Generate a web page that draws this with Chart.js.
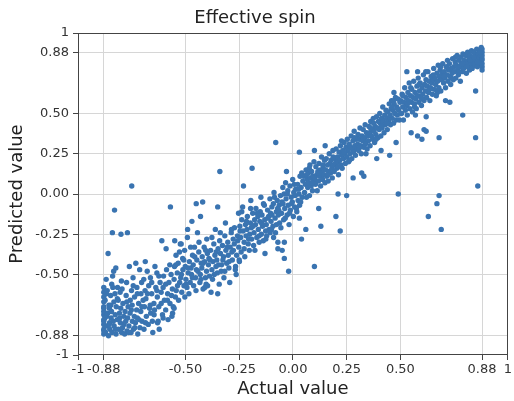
<!DOCTYPE html>
<html>
<head>
<meta charset="utf-8">
<script src="https://cdn.jsdelivr.net/npm/chart.js@4.4.1/dist/chart.umd.min.js"></script>
<style>html,body{margin:0;padding:0;background:#fff;}canvas{display:block;}</style>
</head>
<body>
<canvas id="c" width="514" height="401"></canvas>
<script>
// [actual, predicted] pairs
const segLeft = [
[-0.88,-0.87],[-0.88,-0.84],[-0.88,-0.81],[-0.88,-0.78],[-0.88,-0.75],[-0.88,-0.73],[-0.88,-0.70],[-0.88,-0.67],[-0.88,-0.64],[-0.88,-0.61],[-0.88,-0.58],[-0.88,-0.85],[-0.88,-0.79],[-0.88,-0.71],
[-0.872,-0.86],[-0.866,-0.76],[-0.874,-0.66],[-0.869,-0.53],[-0.863,-0.82],[-0.858,-0.88],[-0.862,-0.74],[-0.856,-0.69],[-0.864,-0.60],[-0.853,-0.80],
[-0.852,-0.84],[-0.846,-0.77],[-0.854,-0.71],[-0.848,-0.63],[-0.843,-0.56],[-0.842,-0.86],[-0.836,-0.79],[-0.844,-0.73],[-0.839,-0.51],[-0.833,-0.67],
[-0.832,-0.82],[-0.827,-0.75],[-0.834,-0.48],[-0.828,-0.62],[-0.823,-0.87],[-0.817,-0.78],[-0.822,-0.70],[-0.824,-0.46],[-0.816,-0.58],
[-0.812,-0.84],[-0.807,-0.74],[-0.813,-0.66],[-0.803,-0.80],[-0.797,-0.86],[-0.801,-0.71],[-0.804,-0.61],[-0.798,-0.54],
[-0.793,-0.83],[-0.787,-0.76],[-0.791,-0.68],[-0.783,-0.87],[-0.778,-0.79],[-0.781,-0.73],[-0.776,-0.63],[-0.772,-0.85],[-0.767,-0.70],[-0.774,-0.55],[-0.769,-0.77],
[-0.763,-0.82],[-0.757,-0.66],[-0.761,-0.45],[-0.758,-0.74],[-0.753,-0.86],[-0.747,-0.79],[-0.751,-0.60],[-0.748,-0.69],
[-0.742,-0.84],[-0.738,-0.76],[-0.744,-0.52],[-0.737,-0.64],[-0.733,-0.80],[-0.727,-0.72],[-0.731,-0.43],[-0.726,-0.58],
[-0.722,-0.87],[-0.718,-0.68],[-0.724,-0.77],[-0.712,-0.83],[-0.707,-0.62],[-0.713,-0.47],[-0.708,-0.73],[-0.702,-0.79],[-0.697,-0.66],[-0.704,-0.55],
[-0.693,-0.84],[-0.687,-0.42],[-0.691,-0.70],[-0.688,-0.60],[-0.682,-0.76],[-0.678,-0.48],[-0.684,-0.65],[-0.673,-0.81],[-0.667,-0.71],[-0.671,-0.57],
[-0.662,-0.74],[-0.657,-0.62],[-0.663,-0.52],[-0.652,-0.86],[-0.647,-0.68],[-0.654,-0.79],[-0.642,-0.45],[-0.638,-0.58],[-0.644,-0.72],
[-0.633,-0.49],[-0.627,-0.79],[-0.631,-0.64],[-0.622,-0.84],[-0.618,-0.55],[-0.624,-0.70],[-0.613,-0.61],[-0.607,-0.75],[-0.602,-0.51],[-0.598,-0.66],[-0.604,-0.58],
[-0.592,-0.72],[-0.588,-0.47],[-0.583,-0.62],[-0.577,-0.55],[-0.581,-0.78],[-0.572,-0.68],[-0.567,-0.50],[-0.563,-0.76],[-0.557,-0.70],[-0.561,-0.59],[-0.553,-0.53],[-0.547,-0.64],[-0.551,-0.45],
[-0.875,-0.77],[-0.868,-0.62],[-0.855,-0.81],[-0.847,-0.69],[-0.838,-0.58],[-0.826,-0.84],[-0.817,-0.65],[-0.806,-0.77],[-0.795,-0.59],[-0.786,-0.81],[-0.773,-0.67],[-0.764,-0.86],
[-0.752,-0.72],[-0.743,-0.57],[-0.736,-0.83],[-0.724,-0.62],[-0.716,-0.78],[-0.703,-0.70],[-0.694,-0.53],[-0.686,-0.80],[-0.677,-0.62],[-0.664,-0.69],[-0.657,-0.55],[-0.646,-0.75],
[-0.633,-0.60],[-0.624,-0.51],[-0.613,-0.68],[-0.604,-0.77],[-0.592,-0.56],[-0.584,-0.66],[-0.573,-0.44],[-0.565,-0.63],[-0.553,-0.71]
];
const segMidLeft = [
[-0.543,-0.60],[-0.538,-0.49],[-0.544,-0.38],[-0.532,-0.66],[-0.527,-0.55],[-0.534,-0.43],[-0.522,-0.52],[-0.517,-0.61],[-0.524,-0.31],[-0.512,-0.47],[-0.507,-0.57],[-0.513,-0.40],
[-0.503,-0.64],[-0.498,-0.53],[-0.501,-0.45],[-0.504,-0.35],[-0.493,-0.58],[-0.487,-0.49],[-0.491,-0.27],[-0.482,-0.42],[-0.478,-0.55],[-0.484,-0.62],[-0.472,-0.50],[-0.467,-0.38],[-0.474,-0.46],
[-0.462,-0.57],[-0.458,-0.33],[-0.464,-0.44],[-0.453,-0.52],[-0.447,-0.41],[-0.451,-0.60],[-0.442,-0.48],[-0.438,-0.36],[-0.444,-0.24],[-0.433,-0.55],[-0.427,-0.43],[-0.431,-0.50],
[-0.422,-0.39],[-0.418,-0.59],[-0.424,-0.46],[-0.413,-0.33],[-0.407,-0.52],[-0.411,-0.42],[-0.402,-0.48],[-0.398,-0.37],[-0.404,-0.56],[-0.401,-0.28],[-0.393,-0.44],[-0.388,-0.51],[-0.391,-0.40],
[-0.383,-0.35],[-0.377,-0.47],[-0.381,-0.61],[-0.372,-0.42],[-0.368,-0.31],[-0.374,-0.53],[-0.363,-0.38],[-0.358,-0.45],[-0.361,-0.22],[-0.352,-0.49],[-0.348,-0.34],[-0.354,-0.41],
[-0.343,-0.56],[-0.337,-0.37],[-0.341,-0.29],[-0.332,-0.44],[-0.328,-0.32],[-0.334,-0.48],[-0.323,-0.39],[-0.317,-0.26],[-0.321,-0.52],[-0.312,-0.35],[-0.308,-0.43],[-0.314,-0.18],
[-0.303,-0.30],[-0.298,-0.46],[-0.301,-0.38],[-0.292,-0.33],[-0.287,-0.24],[-0.294,-0.55],[-0.282,-0.41],[-0.278,-0.28],[-0.284,-0.36],[-0.272,-0.21],[-0.267,-0.45],[-0.273,-0.31],[-0.262,-0.38],[-0.258,-0.26],[-0.264,-0.50],
[-0.545,-0.44],[-0.537,-0.57],[-0.528,-0.36],[-0.519,-0.50],[-0.508,-0.41],[-0.497,-0.56],[-0.488,-0.46],[-0.476,-0.33],[-0.468,-0.52],[-0.457,-0.39],[-0.449,-0.47],[-0.437,-0.30],
[-0.428,-0.53],[-0.418,-0.43],[-0.406,-0.35],[-0.397,-0.57],[-0.386,-0.41],[-0.377,-0.27],[-0.366,-0.50],[-0.357,-0.36],[-0.346,-0.44],[-0.338,-0.24],[-0.326,-0.41],[-0.317,-0.48],
[-0.306,-0.33],[-0.297,-0.42],[-0.286,-0.22],[-0.277,-0.35],[-0.268,-0.47],[-0.257,-0.29]
];
const segMid = [
[-0.252,-0.33],[-0.247,-0.20],[-0.253,-0.12],[-0.249,-0.42],[-0.243,-0.27],[-0.238,-0.16],[-0.241,-0.36],[-0.232,-0.23],[-0.227,-0.30],[-0.234,-0.08],[-0.221,-0.19],[-0.224,-0.39],[-0.218,-0.26],
[-0.212,-0.14],[-0.208,-0.31],[-0.214,-0.22],[-0.203,-0.35],[-0.198,-0.18],[-0.201,-0.25],[-0.196,-0.04],[-0.192,-0.28],[-0.187,-0.12],[-0.194,-0.21],[-0.183,-0.32],[-0.178,-0.16],[-0.181,-0.24],
[-0.172,-0.09],[-0.168,-0.27],[-0.174,-0.19],[-0.163,-0.14],[-0.157,-0.30],[-0.161,-0.22],[-0.152,-0.11],[-0.147,-0.25],[-0.154,-0.17],[-0.149,-0.02],[-0.142,-0.20],[-0.138,-0.29],[-0.144,-0.13],
[-0.133,-0.07],[-0.127,-0.23],[-0.131,-0.16],[-0.122,-0.26],[-0.118,-0.10],[-0.124,-0.19],[-0.113,-0.14],[-0.107,-0.03],[-0.111,-0.22],[-0.102,-0.17],[-0.098,-0.08],[-0.104,-0.12],
[-0.093,-0.20],[-0.088,0.01],[-0.091,-0.06],[-0.083,-0.15],[-0.077,-0.11],[-0.081,-0.24],[-0.073,-0.04],[-0.068,-0.13],[-0.071,-0.09],[-0.062,-0.18],[-0.058,-0.01],[-0.064,-0.07],
[-0.053,-0.12],[-0.047,0.04],[-0.051,-0.05],[-0.043,-0.16],[-0.038,-0.09],[-0.041,0.00],[-0.032,-0.03],[-0.027,-0.13],[-0.034,0.07],[-0.022,-0.07],[-0.018,-0.19],[-0.024,0.02],
[-0.012,-0.10],[-0.008,-0.02],[-0.014,0.05],[-0.003,-0.05],[0.002,-0.14],[0.004,0.01],[-0.001,0.09],[0.008,-0.08],[0.013,0.03],[0.011,-0.01],[0.018,-0.11],[0.022,0.06],[0.024,-0.04],
[0.028,0.00],[0.033,0.11],[0.031,-0.07],[0.038,0.04],[0.043,-0.02],[0.041,0.13],
[-0.246,-0.23],[-0.238,-0.11],[-0.227,-0.34],[-0.216,-0.17],[-0.206,-0.28],[-0.197,-0.09],[-0.186,-0.20],[-0.177,-0.35],[-0.166,-0.12],[-0.157,-0.26],[-0.146,-0.18],[-0.137,-0.06],
[-0.126,-0.28],[-0.117,-0.15],[-0.106,-0.24],[-0.097,-0.13],[-0.086,-0.02],[-0.077,-0.19],[-0.066,-0.10],[-0.056,-0.21],[-0.046,-0.06],[-0.036,-0.15],[-0.026,0.00],[-0.016,-0.12],
[-0.006,-0.06],[0.006,0.06],[0.016,-0.09],[0.026,0.03],[0.036,-0.05],[0.046,0.08]
];
const segMidRight = [
[0.051,0.11],[0.054,0.01],[0.058,0.06],[0.061,0.15],[0.063,-0.02],[0.066,0.09],[0.069,0.04],[0.072,0.13],[0.074,0.07],[0.077,-0.01],[0.079,0.18],[0.082,0.10],[0.085,0.05],[0.087,0.14],[0.091,0.02],[0.093,0.11],[0.096,0.08],[0.098,0.20],
[0.102,0.10],[0.105,0.06],[0.107,0.17],[0.111,0.12],[0.113,0.02],[0.116,0.14],[0.119,0.08],[0.121,0.19],[0.124,0.11],[0.127,0.15],[0.129,0.05],[0.133,0.23],[0.135,0.13],[0.138,0.09],[0.141,0.16],[0.144,0.12],[0.147,0.21],[0.149,0.07],
[0.152,0.15],[0.155,0.22],[0.157,0.11],[0.161,0.18],[0.164,0.08],[0.166,0.14],[0.169,0.25],[0.172,0.19],[0.175,0.13],[0.178,0.21],[0.181,0.16],[0.183,0.10],[0.186,0.27],[0.189,0.18],[0.192,0.14],[0.195,0.22],[0.198,0.19],
[0.201,0.28],[0.204,0.16],[0.207,0.23],[0.209,0.20],[0.212,0.12],[0.215,0.26],[0.218,0.21],[0.221,0.30],[0.224,0.18],[0.227,0.24],[0.229,0.16],[0.232,0.27],[0.236,0.22],[0.238,0.32],[0.241,0.25],[0.244,0.19],[0.247,0.29],
[0.251,0.23],[0.253,0.34],[0.256,0.27],[0.259,0.20],[0.262,0.31],[0.265,0.25],[0.268,0.29],[0.271,0.36],[0.274,0.22],[0.277,0.28],[0.279,0.33],[0.282,0.26],[0.285,0.39],[0.288,0.30],[0.291,0.24],[0.294,0.34],[0.297,0.28],
[0.301,0.31],[0.303,0.37],[0.306,0.27],[0.309,0.34],[0.312,0.41],[0.315,0.30],[0.318,0.25],[0.321,0.36],[0.324,0.33],[0.327,0.40],[0.330,0.29],[0.333,0.35],[0.336,0.43],[0.339,0.32],[0.342,0.38],[0.345,0.28],[0.348,0.36],
[0.351,0.33],[0.354,0.42],[0.357,0.38],[0.359,0.30],[0.362,0.45],[0.365,0.36],[0.368,0.40],[0.371,0.34],[0.374,0.47],[0.377,0.39],[0.380,0.32],[0.383,0.42],[0.386,0.37],[0.389,0.48],[0.392,0.41],[0.395,0.35],[0.398,0.45],
[0.401,0.40],[0.404,0.50],[0.407,0.44],[0.409,0.36],[0.412,0.47],[0.415,0.41],[0.418,0.54],[0.421,0.45],[0.424,0.38],[0.427,0.49],[0.430,0.43],[0.433,0.52],[0.436,0.47],[0.439,0.40],[0.442,0.51],[0.445,0.45],[0.448,0.56],
[0.451,0.48],[0.454,0.43],[0.457,0.53],[0.459,0.58],[0.462,0.47],[0.465,0.52],[0.468,0.44],[0.471,0.56],[0.474,0.50],[0.477,0.60],[0.480,0.46],[0.483,0.54],[0.486,0.49],[0.489,0.59],[0.492,0.52],[0.495,0.46],[0.498,0.57],
[0.064,0.12],[0.088,0.07],[0.118,0.13],[0.139,0.18],[0.163,0.12],[0.187,0.23],[0.211,0.17],[0.237,0.26],[0.263,0.21],[0.287,0.35],[0.311,0.29],[0.337,0.31],[0.361,0.41],[0.387,0.34],
[0.411,0.42],[0.437,0.44],[0.461,0.54],[0.487,0.53],[0.076,0.16],[0.226,0.33],[0.376,0.44]
];
const segRight = [
[0.502,0.58],[0.505,0.50],[0.508,0.62],[0.511,0.54],[0.514,0.46],[0.517,0.57],[0.520,0.66],[0.523,0.52],[0.526,0.60],[0.529,0.55],[0.532,0.49],[0.535,0.63],[0.538,0.58],[0.541,0.69],[0.544,0.53],[0.547,0.61],
[0.551,0.57],[0.553,0.65],[0.556,0.51],[0.559,0.60],[0.562,0.70],[0.565,0.56],[0.568,0.63],[0.571,0.59],[0.574,0.53],[0.577,0.67],[0.580,0.61],[0.583,0.72],[0.586,0.57],[0.589,0.64],[0.592,0.69],[0.595,0.60],[0.598,0.55],
[0.601,0.66],[0.604,0.62],[0.607,0.74],[0.610,0.58],[0.613,0.68],[0.616,0.64],[0.619,0.71],[0.622,0.60],[0.625,0.67],[0.628,0.76],[0.631,0.63],[0.634,0.70],[0.637,0.58],[0.640,0.66],[0.643,0.73],[0.646,0.69],[0.649,0.62],
[0.652,0.71],[0.655,0.78],[0.658,0.65],[0.661,0.72],[0.664,0.68],[0.667,0.61],[0.670,0.75],[0.673,0.70],[0.676,0.80],[0.679,0.66],[0.682,0.73],[0.685,0.77],[0.688,0.64],[0.691,0.71],[0.694,0.75],[0.697,0.81],
[0.701,0.69],[0.704,0.76],[0.707,0.72],[0.710,0.66],[0.713,0.79],[0.716,0.74],[0.719,0.83],[0.722,0.70],[0.725,0.77],[0.728,0.81],[0.731,0.73],[0.734,0.68],[0.737,0.78],[0.740,0.75],[0.743,0.84],[0.746,0.71],[0.749,0.79],
[0.752,0.76],[0.755,0.82],[0.758,0.72],[0.761,0.80],[0.764,0.86],[0.767,0.77],[0.770,0.74],[0.773,0.83],[0.776,0.79],[0.779,0.70],[0.782,0.85],[0.785,0.81],[0.788,0.76],[0.791,0.87],[0.794,0.78],[0.797,0.83],
[0.801,0.80],[0.804,0.86],[0.807,0.75],[0.810,0.82],[0.813,0.88],[0.816,0.79],[0.819,0.84],[0.822,0.77],[0.825,0.86],[0.828,0.81],[0.831,0.89],[0.834,0.78],[0.837,0.85],[0.840,0.82],[0.843,0.88],[0.846,0.80],[0.849,0.86],
[0.852,0.83],[0.855,0.90],[0.858,0.79],[0.861,0.87],[0.864,0.84],[0.867,0.89],[0.870,0.81],[0.873,0.86],[0.876,0.91],[0.879,0.83],[0.88,0.88],[0.88,0.79],[0.88,0.84],[0.88,0.90],[0.88,0.86],[0.88,0.81],[0.88,0.77],
[0.512,0.61],[0.533,0.56],[0.548,0.66],[0.566,0.54],[0.587,0.68],[0.603,0.59],[0.618,0.76],[0.636,0.65],[0.653,0.74],[0.672,0.63],[0.687,0.79],[0.703,0.73],
[0.721,0.78],[0.738,0.72],[0.756,0.85],[0.773,0.76],[0.792,0.81],[0.808,0.79],[0.826,0.83],[0.842,0.85],[0.859,0.82],[0.871,0.88],[0.468,0.58],[0.452,0.49]
];
const outliers = [
[-0.34,0.14],[-0.75,0.05],[-0.83,-0.10],[-0.57,-0.08],[-0.84,-0.24],[-0.80,-0.25],[-0.77,-0.24],[-0.86,-0.37],[-0.45,-0.06],[-0.42,-0.05],[-0.35,-0.08],
[-0.08,0.32],[0.03,0.26],[-0.19,0.16],[-0.23,0.05],[-0.03,0.14],
[0.12,-0.09],[0.20,-0.14],[0.03,-0.15],[0.13,-0.20],[0.06,-0.22],[0.22,-0.23],[0.04,-0.28],[-0.05,-0.35],[0.10,-0.45],[-0.02,-0.48],[-0.13,-0.37],[-0.07,-0.34],[-0.25,-0.41],[-0.04,-0.40],[-0.04,-0.30],[-0.07,-0.30],[-0.09,-0.27],[-0.10,-0.22],
[0.85,0.64],[0.79,0.49],[0.68,0.35],[0.85,0.35],[0.55,0.38],[0.58,0.36],[0.60,0.34],[0.61,0.40],[0.62,0.39],[0.48,0.32],[0.45,0.24],[0.39,0.22],[0.32,0.13],[0.33,0.11],[0.49,0.00],[0.68,-0.01],[0.67,-0.06],[0.63,-0.14],[0.69,-0.22],[0.86,0.05],[0.62,0.48],[0.57,0.49],[0.73,0.57],[0.71,0.58],[0.53,0.76],[0.58,0.76],[0.47,0.63],
[0.28,0.10],[0.21,0.00],[0.25,-0.01],[0.15,0.30],[0.10,0.27],[0.41,0.27],[0.34,0.25],
[-0.61,-0.29],[-0.55,-0.29],[-0.52,-0.31],[-0.59,-0.34],[-0.47,-0.17],[-0.49,-0.22],[-0.43,-0.14],[-0.41,-0.58],[-0.35,-0.62],[-0.56,-0.74],[-0.63,-0.80]
];
const tickValues = [-1, -0.88, -0.5, -0.25, 0, 0.25, 0.5, 0.88, 1];
const tickLabels = ['-1', '-0.88', '-0.50', '-0.25', '0.00', '0.25', '0.50', '0.88', '1'];

const allPairs = [].concat(segLeft, segMidLeft, segMid, segMidRight, segRight, outliers);
const FONT = "'DejaVu Sans', sans-serif";

const framePlugin = {
  id: 'frame',
  afterDraw(chart) {
    const a = chart.chartArea, ctx = chart.ctx;
    ctx.save();
    ctx.strokeStyle = '#444';
    ctx.lineWidth = 1;
    ctx.strokeRect(Math.round(a.left) + 0.5, Math.round(a.top) + 0.5, Math.round(a.right - a.left) - 1, Math.round(a.bottom - a.top) - 1);
    ctx.restore();
  }
};

function axis(titleText, titlePadding, tickPad, fitFn) {
  return {
    type: 'linear', min: -1, max: 1,
    afterBuildTicks: s => { s.ticks = tickValues.map(v => ({ value: v })); },
    afterFit: fitFn,
    ticks: {
      autoSkip: false, maxRotation: 0, padding: tickPad,
      color: '#333',
      font: { family: FONT, size: 13 },
      callback: (v) => { const i = tickValues.indexOf(v); return i >= 0 ? tickLabels[i] : ''; }
    },
    grid: {
      color: ctx => (ctx.tick && Math.abs(ctx.tick.value) === 1) ? 'rgba(0,0,0,0)' : '#d6d6d6',
      lineWidth: 1,
      drawTicks: true, tickLength: 5, tickColor: '#444', tickWidth: 1
    },
    border: { display: false },
    title: { display: true, text: titleText, color: '#222', font: { family: FONT, size: 18 }, padding: titlePadding }
  };
}

new Chart(document.getElementById('c'), {
  type: 'scatter',
  data: {
    datasets: [{
      data: allPairs.map(p => ({ x: p[0], y: p[1] })),
      backgroundColor: '#3a74b1',
      borderWidth: 0,
      pointRadius: 2.7,
      pointHoverRadius: 2.7
    }]
  },
  options: {
    responsive: false,
    animation: false,
    devicePixelRatio: 1,
    layout: { padding: { left: 0, right: 4, top: 0, bottom: 0 } },
    plugins: {
      legend: { display: false },
      tooltip: { enabled: false },
      title: { display: true, text: 'Effective spin', color: '#222', font: { family: FONT, size: 18, weight: 'normal' }, padding: { top: 8, bottom: 3.4 } }
    },
    scales: {
      x: axis('Actual value', { top: 0, bottom: 1 }, 2, s => { s.height = 46; }),
      y: axis('Predicted value', { top: 7, bottom: 0 }, 4, s => { s.width = 78; })
    }
  },
  plugins: [framePlugin]
});
</script>
</body>
</html>
